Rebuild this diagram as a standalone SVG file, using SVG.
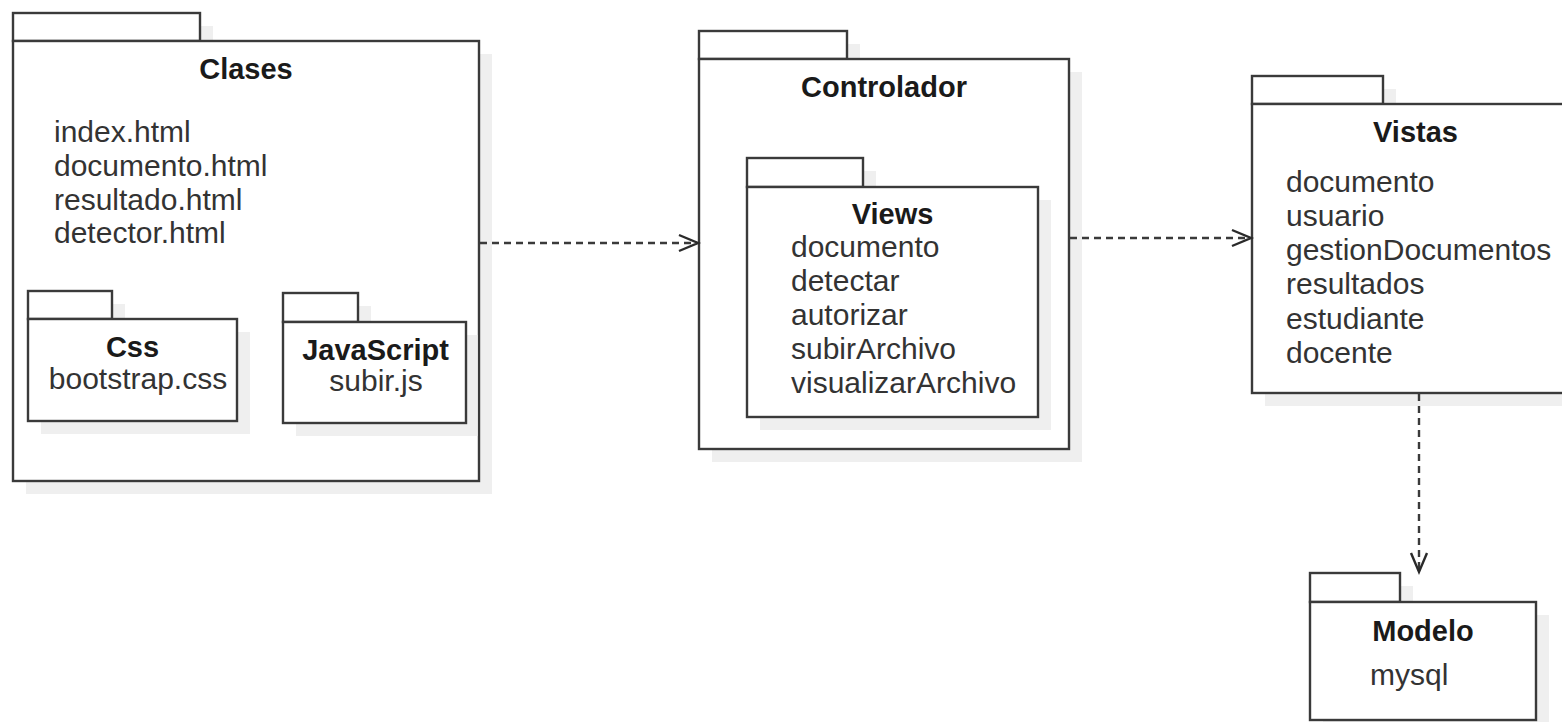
<svg xmlns="http://www.w3.org/2000/svg" width="1562" height="722" viewBox="0 0 1562 722">
  <defs>
    <style>
      .shadow { fill: #efefef; stroke: none; }
      .pkg { fill: #ffffff; stroke: #3a3a3a; stroke-width: 2.4; }
      .title { font-family: "Liberation Sans", Arial, sans-serif; font-size: 29px; font-weight: bold; fill: #1a1a1a; text-anchor: middle; }
      .item { font-family: "Liberation Sans", Arial, sans-serif; font-size: 30px; fill: #333333; }
      .mid { text-anchor: middle; }
      .dep { fill: none; stroke: #3a3a3a; stroke-width: 2.4; stroke-dasharray: 7 5; }
      .head { fill: none; stroke: #2a2a2a; stroke-width: 2.4; }
    </style>
  </defs>
  <rect width="1562" height="722" fill="#ffffff"/>

  <!-- Clases package -->
  <g id="clases">
    <rect class="shadow" x="26" y="26" width="187" height="28"/>
    <rect class="shadow" x="26" y="54" width="466" height="440"/>
    <rect class="pkg" x="13" y="13" width="187" height="28"/>
    <rect class="pkg" x="13" y="41" width="466" height="440"/>
    <text class="title" x="246" y="79">Clases</text>
    <text class="item" x="54" y="142">index.html</text>
    <text class="item" x="54" y="176">documento.html</text>
    <text class="item" x="54" y="209.5">resultado.html</text>
    <text class="item" x="54" y="243">detector.html</text>
  </g>

  <!-- Css package (inside Clases) -->
  <g id="css">
    <rect class="shadow" x="41" y="304" width="84" height="28"/>
    <rect class="shadow" x="41" y="332" width="209" height="102"/>
    <rect class="pkg" x="28" y="291" width="84" height="28"/>
    <rect class="pkg" x="28" y="319" width="209" height="102"/>
    <text class="title" x="132.5" y="357">Css</text>
    <text class="item mid" x="138" y="389">bootstrap.css</text>
  </g>

  <!-- JavaScript package (inside Clases); shadow stops at the parent border -->
  <g id="javascript">
    <rect class="shadow" x="296" y="306" width="75" height="29"/>
    <rect class="shadow" x="296" y="335" width="181.5" height="101"/>
    <rect class="pkg" x="283" y="293" width="75" height="29"/>
    <rect class="pkg" x="283" y="322" width="183" height="101"/>
    <text class="title" x="375.5" y="360">JavaScript</text>
    <text class="item mid" x="376" y="391">subir.js</text>
  </g>

  <!-- Controlador package -->
  <g id="controlador">
    <rect class="shadow" x="712" y="44" width="148" height="28"/>
    <rect class="shadow" x="712" y="72" width="370" height="390"/>
    <rect class="pkg" x="699" y="31" width="148" height="28"/>
    <rect class="pkg" x="699" y="59" width="370" height="390"/>
    <text class="title" x="884" y="97">Controlador</text>
  </g>

  <!-- Views package (inside Controlador) -->
  <g id="views">
    <rect class="shadow" x="760" y="171" width="116" height="29"/>
    <rect class="shadow" x="760" y="200" width="291" height="230"/>
    <rect class="pkg" x="747" y="158" width="116" height="29"/>
    <rect class="pkg" x="747" y="187" width="291" height="230"/>
    <text class="title" x="892.5" y="224">Views</text>
    <text class="item" x="791" y="257">documento</text>
    <text class="item" x="791" y="291">detectar</text>
    <text class="item" x="791" y="325">autorizar</text>
    <text class="item" x="791" y="359">subirArchivo</text>
    <text class="item" x="791" y="393">visualizarArchivo</text>
  </g>

  <!-- Vistas package -->
  <g id="vistas">
    <rect class="shadow" x="1265" y="89" width="131" height="28"/>
    <rect class="shadow" x="1265" y="117" width="327" height="289"/>
    <rect class="pkg" x="1252" y="76" width="131" height="28"/>
    <rect class="pkg" x="1252" y="104" width="327" height="289"/>
    <text class="title" x="1415.5" y="142">Vistas</text>
    <text class="item" x="1286" y="192">documento</text>
    <text class="item" x="1286" y="226">usuario</text>
    <text class="item" x="1286" y="260">gestionDocumentos</text>
    <text class="item" x="1286" y="294">resultados</text>
    <text class="item" x="1286" y="329">estudiante</text>
    <text class="item" x="1286" y="363">docente</text>
  </g>

  <!-- Modelo package -->
  <g id="modelo">
    <rect class="shadow" x="1323" y="586" width="90" height="29"/>
    <rect class="shadow" x="1323" y="615" width="226" height="118"/>
    <rect class="pkg" x="1310" y="573" width="90" height="29"/>
    <rect class="pkg" x="1310" y="602" width="226" height="118"/>
    <text class="title" x="1423" y="641">Modelo</text>
    <text class="item" x="1370" y="685">mysql</text>
  </g>

  <!-- dependency connectors (dashed, open arrowheads) -->
  <g id="connectors">
    <line class="dep" x1="480" y1="243" x2="697" y2="243"/>
    <polyline class="head" points="679,235 698,243 679,251"/>

    <line class="dep" x1="1070" y1="238" x2="1250" y2="238"/>
    <polyline class="head" points="1232,230 1251,238 1232,246"/>

    <line class="dep" x1="1419" y1="394" x2="1419" y2="571"/>
    <polyline class="head" points="1411,553 1419,572 1427,553"/>
  </g>
</svg>
